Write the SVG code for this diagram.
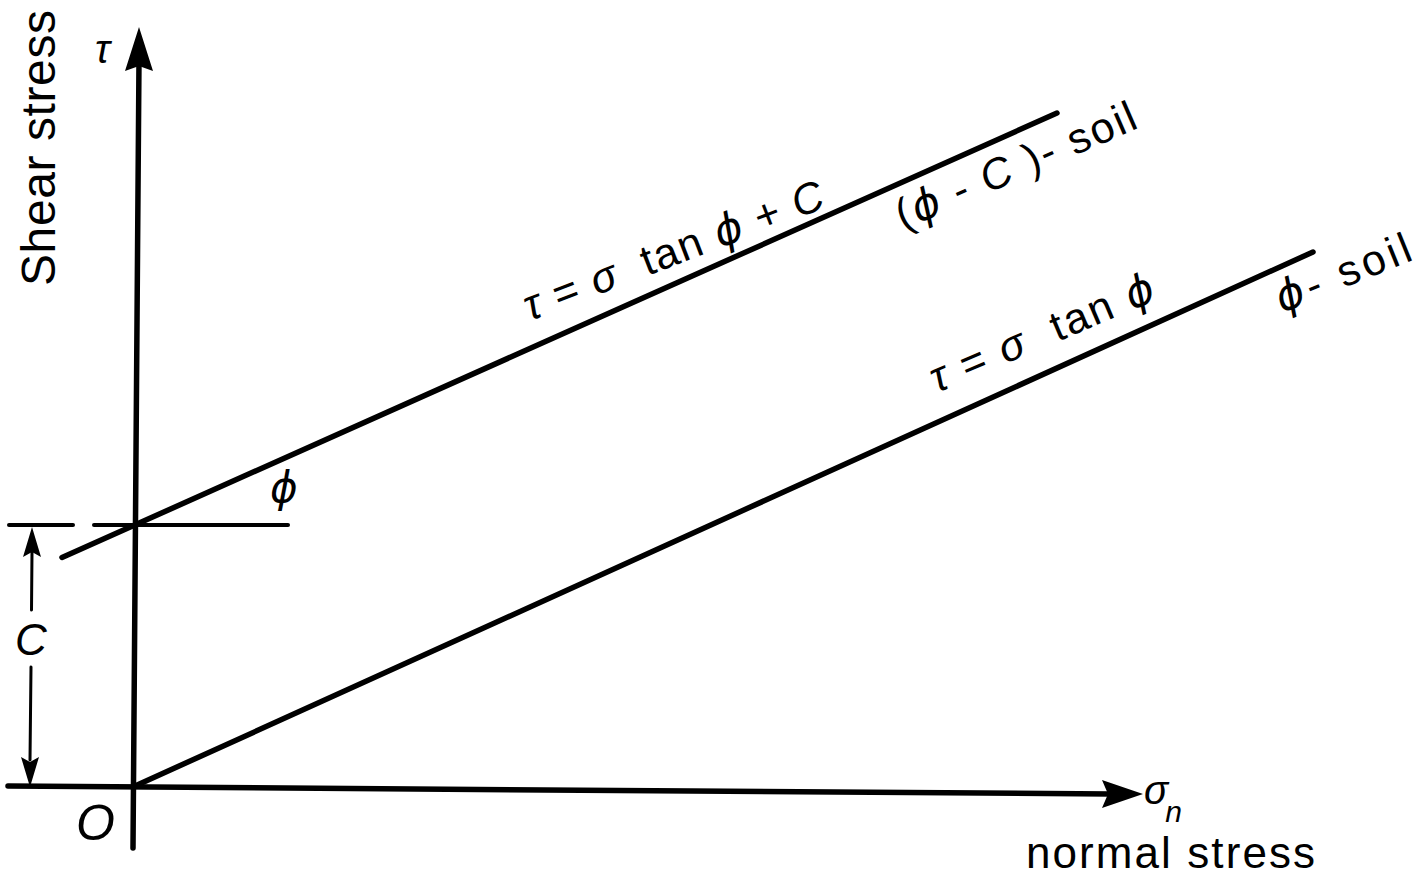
<svg xmlns="http://www.w3.org/2000/svg" width="1427" height="875" viewBox="0 0 1427 875">
<style>
.ln{stroke:#000;stroke-linecap:round;fill:none}
.ax{stroke-width:5.5}
.ar{fill:#000;stroke:none}
.t{font-family:"Liberation Sans","DejaVu Sans",Arial,sans-serif;fill:#000}
.i{font-style:italic}
.p{font-family:"DejaVu Sans","Liberation Sans",sans-serif;font-style:italic}
</style>
<rect width="1427" height="875" fill="#fff"/>
<g id="axes">
  <line class="ln ax" x1="139" y1="60" x2="133" y2="848"/>
  <polygon class="ar" points="139,27 153,71 139,66 125,71"/>
  <line class="ln ax" x1="8" y1="786" x2="1110" y2="794"/>
  <polygon class="ar" points="1143,794 1102,808 1108,794 1102,780"/>
</g>
<g id="connectors">
  <line id="line-phi-c" class="ln" stroke-width="5.5" x1="62" y1="557.5" x2="1057" y2="113"/>
  <line id="line-phi" class="ln" stroke-width="5.5" x1="135" y1="786" x2="1313" y2="252"/>
  <line class="ln" stroke-width="4" x1="9" y1="525" x2="73" y2="525"/>
  <line class="ln" stroke-width="4" x1="94" y1="525" x2="288" y2="525"/>
  <line class="ln" stroke-width="3" x1="32" y1="552" x2="31.5" y2="610"/>
  <line class="ln" stroke-width="3" x1="31" y1="667" x2="30" y2="760"/>
  <polygon class="ar" points="32,527 41,557 32,552 23,557"/>
  <polygon class="ar" points="30,787 21,757 30,762 39,757"/>
</g>
<g id="labels">
  <text class="t" font-size="48" transform="translate(55,286) rotate(-90)" textLength="276" lengthAdjust="spacing">Shear stress</text>
  <text class="t i" font-size="40" x="95" y="63">τ</text>
  <text class="t i" font-size="44" x="15" y="655">C</text>
  <text class="t i" font-size="50" x="76" y="840">O</text>
  <text class="t p" font-size="42" x="270" y="502">ϕ</text>
  <text class="t i" font-size="40" x="1144" y="804">σ<tspan font-size="30" dx="-3" dy="18">n</tspan></text>
  <text class="t" font-size="44" x="1026" y="868" textLength="289" lengthAdjust="spacing">normal stress</text>
  <text class="t" font-size="43" xml:space="preserve" transform="translate(530,321) rotate(-21)" textLength="318" lengthAdjust="spacing"><tspan class="i">τ</tspan> = <tspan class="i">σ</tspan>  tan <tspan class="p">ϕ</tspan> + <tspan class="i">C</tspan></text>
  <text class="t" font-size="43" xml:space="preserve" transform="translate(903,230) rotate(-23.4)" textLength="258" lengthAdjust="spacing">(<tspan class="p">ϕ</tspan> - <tspan class="i">C</tspan> )- soil</text>
  <text class="t" font-size="43" xml:space="preserve" transform="translate(937,393) rotate(-23)" textLength="240" lengthAdjust="spacing"><tspan class="i">τ</tspan> = <tspan class="i">σ</tspan>  tan <tspan class="p">ϕ</tspan></text>
  <text class="t" font-size="43" xml:space="preserve" transform="translate(1282,313) rotate(-22)" textLength="143" lengthAdjust="spacing"><tspan class="p">ϕ</tspan>- soil</text>
</g>
</svg>
